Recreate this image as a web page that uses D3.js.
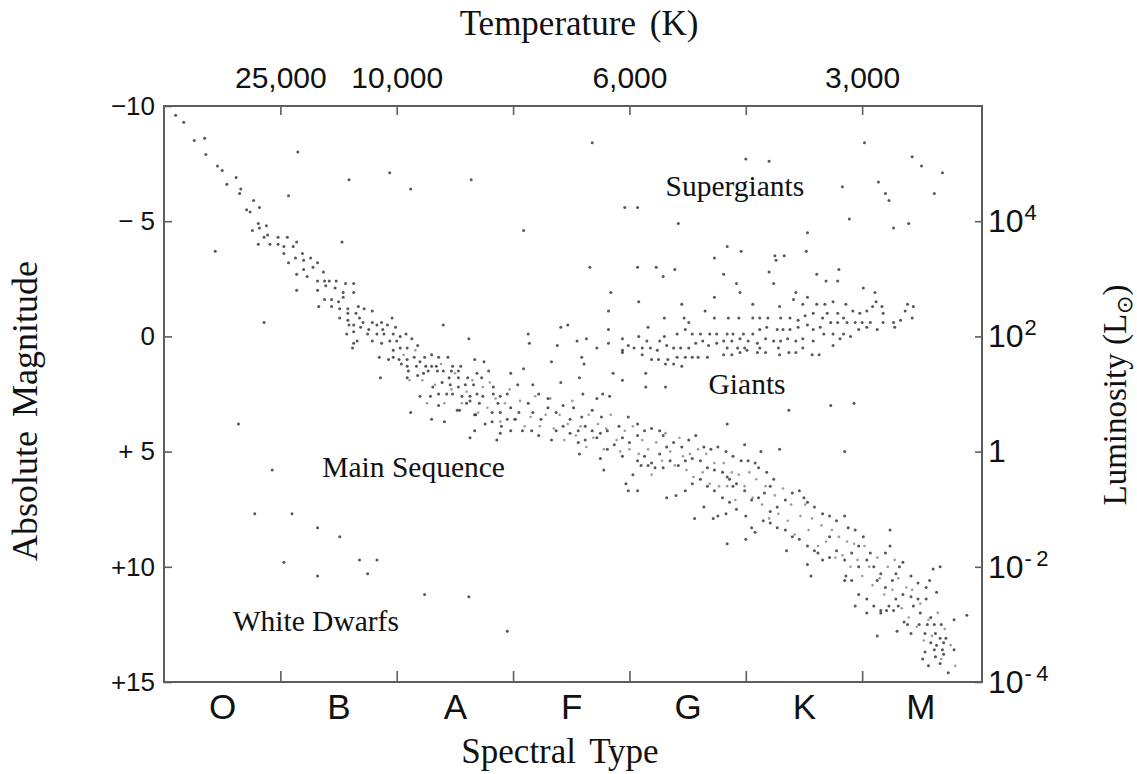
<!DOCTYPE html>
<html><head><meta charset="utf-8">
<script src="https://cdn.jsdelivr.net/npm/d3@7"></script>
<style>
html,body{margin:0;padding:0;background:#fff;}
svg{display:block;}
.tick text{fill:#111;}
</style>
</head><body>
<svg id="c" width="1137" height="774"></svg>
<script>
// ---- axis definitions ----
const spectralClasses = ["O","B","A","F","G","K","M"];
const classCenters = [5,15,25,35,45,55,65];           // subclass units
const classBoundaries = [10,20,30,40,50,60];
const tempTickLabels = ["25,000","10,000","","6,000","","3,000"];
const magTicks = [-10,-5,0,5,10,15];
const magTickLabels = ["\u221210","\u2212 5","0","+ 5","+10","+15"];
const lumExponents = [4,2,0,-2,-4];
const sunMag = 5.0;

// ---- stars: [spectral subclass (O0=0 ... M9=69), absolute magnitude] ----
const mainSeqUpper = [
[1.0,-9.6],[1.7,-9.3],[2.6,-8.5],[3.5,-8.6],[3.6,-7.9],[4.6,-7.4],[5.0,-7.2],[6.2,-6.9],[5.4,-6.6],[6.6,-6.4],
[6.5,-6.2],[7.7,-5.9],[7.1,-5.5],[7.4,-5.4],[8.2,-5.6],[8.1,-4.9],[8.8,-4.8],[7.6,-4.6],[8.2,-4.7],[8.9,-4.4],
[8.6,-4.3],[8.1,-4.0],[9.1,-4.0],[9.8,-4.3],[10.6,-4.3],[9.8,-4.0],[10.3,-3.9],[11.1,-3.9],[11.4,-4.1],[10.3,-3.6],
[11.3,-3.4],[10.7,-3.2],[11.9,-3.6],[12.0,-3.3],[12.6,-3.4],[13.2,-3.2],[12.8,-3.0],[12.0,-2.9],[11.4,-2.7],[12.3,-2.6],
[13.7,-2.8],[13.2,-2.4],[13.8,-2.4],[14.2,-2.4],[14.8,-2.4],[13.9,-2.2],[14.7,-2.1],[15.6,-2.3],[16.3,-2.3],[15.4,-1.9],
[16.3,-1.9],[11.4,-2.0],[13.2,-2.0],[13.8,-1.6],[14.4,-1.6],[13.3,-1.3],[14.4,-1.3],[15.0,-1.5],[15.4,-1.7],[15.1,-1.2],
[15.8,-1.2],[16.7,-1.3],[17.2,-1.2],[17.9,-1.1],[15.8,-1.0],[16.5,-1.0],[15.1,-0.8],[15.8,-0.7],[16.8,-0.8],[17.1,-0.6],
[17.9,-0.6],[15.9,-0.5],[16.3,-0.5],[16.9,-0.4],[17.6,-0.3],[18.3,-0.5],[18.8,-0.3],[19.6,-0.8],[18.7,-0.6],[19.2,-0.5],
[19.9,-0.4],[15.7,-0.1],[16.3,-0.2],[17.5,-0.1],[18.3,-0.1],[18.9,-0.1],[19.7,-0.1],[20.3,0.0],[20.8,-0.1],[21.3,0.1],
[16.6,0.2],[17.9,0.2],[18.7,0.3],[19.4,0.2],[20.0,0.2],[20.3,0.5],[20.9,0.5],[21.8,0.4],[16.2,0.5],[16.3,0.3],
[18.5,0.9],[19.3,1.0],[19.7,0.9],[20.2,1.0],[20.9,1.0],[21.5,0.9],[22.0,1.1],[22.4,0.9],[23.0,0.8],[23.6,0.9],
[24.4,0.9],[19.7,0.6],[20.4,1.2],[20.9,1.3],[21.7,1.3],[22.3,1.6],[22.7,1.5],[23.5,1.5],[24.0,1.5],[24.7,1.5],
[25.3,1.5],[21.0,1.5],[21.8,1.7],[22.5,1.3],[23.0,1.3],[23.4,1.3],[24.8,1.3],[25.5,1.3],[26.7,1.0],[27.5,1.1],
[27.9,1.5],[26.9,1.6],[26.1,1.8],[25.3,1.8],[24.5,1.8],[23.9,2.0],[24.6,2.1],[25.3,2.2],[25.9,2.1],[26.6,2.1],
[27.3,1.8],[23.1,2.2],[18.6,1.8],[20.9,1.8],[22.0,2.6],[22.9,2.6],[23.6,2.5],[24.3,2.5],[24.8,2.5],[25.6,2.6],
[26.3,2.6],[26.9,2.5],[27.4,2.6],[28.3,2.2],[28.3,2.5],[28.9,2.6],[29.5,2.5],[29.8,1.6],[30.9,1.4],[30.4,2.1],
[31.7,2.1],[32.2,2.5],[33.0,2.7],[34.1,2.0],[35.7,1.8],[36.0,2.5],[37.2,2.7],[37.7,2.5],[35.9,0.9],[36.1,1.2],
[33.3,1.1],[33.8,0.4],[34.1,-0.4],[34.7,-0.5],[35.5,0.2],[36.3,0.1],[37.2,0.5],[31.3,-0.1],[31.4,0.3],[26.2,0.1],
[24.0,-0.5],[38.2,-1.1],[38.2,-0.3],[38.2,0.3]
];
const mainSeqLower = [
[26.3,2.8],[27.1,2.9],[28.7,2.9],[28.2,3.3],[28.9,3.3],[29.8,3.1],[29.5,3.6],[30.5,3.3],[31.3,2.9],[31.7,3.3],
[32.4,3.6],[33.0,3.1],[33.7,3.3],[34.3,3.0],[34.9,3.6],[35.9,3.5],[36.8,3.2],[37.6,3.5],[35.2,3.1],[21.2,3.3],
[23.6,3.0],[25.2,3.2],[26.7,3.4],[28.2,3.7],[29.0,3.9],[29.8,4.1],[30.8,4.1],[31.6,4.1],[32.2,4.3],[33.3,4.5],
[33.7,4.1],[34.3,3.9],[34.9,4.2],[35.6,4.1],[36.2,3.9],[36.8,4.1],[37.5,4.2],[38.1,4.1],[39.1,3.9],[39.9,3.5],
[40.7,3.8],[41.3,4.1],[41.9,4.0],[42.6,4.1],[42.9,4.3],[40.7,4.3],[40.0,4.6],[39.4,4.4],[38.7,4.7],[38.1,4.9],
[37.2,4.4],[36.2,4.5],[35.6,4.6],[35.7,5.1],[28.9,4.2],[26.7,4.1],[26.3,4.4],[28.6,4.5],[24.1,3.7],[23.0,3.6],
[39.4,5.2],[37.5,5.3],[40.7,5.4],[41.3,5.2],[41.9,5.5],[42.6,5.1],[43.2,4.8],[43.8,4.6],[44.5,4.8],[45.1,4.5],
[45.7,4.3],[46.4,4.8],[47.0,4.9],[47.6,4.8],[48.3,5.0],[48.9,5.2],[49.6,5.4],[50.2,5.4],[50.8,5.5],[51.1,5.7],
[51.8,5.9],[52.4,6.2],[52.1,6.5],[51.6,6.8],[51.1,7.0],[50.5,7.1],[49.9,6.7],[49.2,6.4],[48.6,6.2],[48.0,5.9],
[47.3,5.8],[46.7,5.7],[46.1,5.4],[45.4,5.3],[44.8,5.4],[44.2,5.6],[43.5,5.4],[42.9,5.7],[42.2,5.7],[41.6,5.6],
[41.0,5.6],[40.3,6.0],[39.7,6.4],[39.9,6.7],[43.2,7.0],[44.0,6.9],[44.8,6.7],[45.4,6.4],[46.1,6.2],[46.7,6.5],
[47.3,6.7],[48.0,7.0],[48.6,7.2],[49.2,7.5],[50.0,7.8],[50.5,8.3],[50.8,8.5],[51.5,8.0],[52.1,7.6],[52.7,7.4],
[53.4,7.1],[54.0,6.8],[54.6,6.7],[55.0,7.0],[55.3,7.2],[55.9,7.4],[56.6,7.7],[57.2,7.8],[57.8,8.0],[58.5,7.8],
[58.8,8.3],[59.4,8.4],[60.1,8.7],[59.7,9.1],[59.1,9.4],[58.5,9.7],[57.8,9.3],[57.2,9.6],[56.6,9.7],[55.9,9.3],
[55.3,9.1],[54.6,8.8],[54.0,8.7],[53.4,8.4],[52.7,8.3],[52.1,8.1],[53.5,9.3],[55.3,9.9],[55.6,10.4],[58.5,10.6],
[58.6,10.4],[59.1,10.6],[59.7,10.0],[60.4,9.7],[60.7,9.4],[61.0,10.0],[61.6,10.3],[61.3,10.6],[62.0,10.9],[62.6,10.6],
[62.9,10.3],[63.2,10.0],[63.5,9.8],[64.2,10.4],[64.8,10.7],[65.5,10.9],[66.1,10.1],[66.4,11.1],[65.5,11.4],[64.8,11.4],
[64.2,11.3],[63.5,11.2],[62.9,11.4],[62.3,11.7],[61.6,11.9],[61.0,11.7],[60.4,11.4],[59.7,11.2],[59.4,11.7],[60.4,12.0],
[61.6,12.0],[61.3,13.0],[65.8,10.6],[66.7,10.0],[62.4,8.4],[62.4,9.1],[62.0,9.4],[57.2,8.7],[56.2,9.4],[48.4,9.0],
[50.0,8.8],[45.6,7.9],[47.2,7.9],[47.6,7.8],[58.5,5.0],[57.3,3.0],[59.3,2.9],[53.7,3.2],[52.9,4.9],[51.3,5.0],
[49.9,4.7],[48.4,3.8],[48.4,6.1],[48.9,6.5],[46.4,7.4],[48.3,7.7],[40.7,6.7],[37.8,5.8],[30.2,3.6],[27.6,3.8],
[26.8,3.4],[25.4,3.2],[26.0,2.9],
[69.0,12.1],[67.9,12.3],[66.8,12.5],[66.2,12.5],[65.6,12.5],[64.9,12.5],[64.2,12.9],[63.0,12.8],[65.4,12.9],[66.3,12.9],
[66.7,13.1],[67.2,13.1],[65.9,13.3],[66.4,13.4],[67.0,13.3],[66.2,13.6],[66.9,13.6],[67.9,13.6],[65.4,13.7],[66.3,13.9],
[67.0,13.8],[65.2,14.0],[66.7,14.2],[67.4,14.6],[65.7,14.3],[62.1,11.9],[62.7,11.9],[63.6,12.4],[63.9,12.5],[63.1,11.7],
[64.4,11.7],[65.0,12.0],[65.9,12.2]
];
// fainter stars filling the main-sequence band (estimated)
const bandAF = [
[20.6,0.8],[21.1,1.9],[21.6,0.6],[22.2,1.9],[22.6,2.9],[23.3,2.1],[23.8,1.2],[24.1,2.9],[24.7,2.3],[25.0,1.6],
[25.6,2.9],[26.0,2.4],[26.5,1.9],[27.0,3.3],[27.4,2.2],[27.8,3.1],[28.0,2.0],[28.5,2.7],[28.9,3.7],[29.3,2.9],
[29.7,2.3],[30.1,3.6],[30.6,2.8],[31.0,3.9],[31.5,3.5],[31.9,2.6],[32.3,3.9],[32.8,3.4],[33.2,2.7],[33.5,4.0],
[34.0,3.4],[34.4,4.5],[34.7,3.8],[35.1,2.8],[35.4,4.3],[35.8,3.9],[36.3,4.8],[36.5,3.4],[36.9,4.4],[37.3,3.8],
[37.8,4.9],[38.0,4.0],[38.4,3.4],[38.9,4.5],[39.2,5.0],[39.6,4.1],[40.0,4.9],[40.3,3.9],[40.8,5.1],[41.1,4.5],
[41.6,4.9],[41.9,6.0],[42.3,4.6],[42.8,5.4],[43.1,4.2],[43.5,5.0],[43.9,5.6],[44.3,4.4],[44.6,5.2],[44.9,5.8]
];
const bandGKM = [
[45.2,5.1],[45.5,6.1],[45.9,4.9],[46.3,5.9],[46.6,5.1],[46.9,6.4],[47.3,5.5],[47.7,6.5],[48.1,5.5],[48.4,6.5],
[48.8,5.9],[49.1,7.1],[49.4,6.0],[49.9,6.5],[50.3,5.9],[50.6,7.0],[50.9,6.2],[51.4,7.3],[51.7,6.5],[52.0,7.9],
[52.5,6.9],[52.8,7.7],[53.2,6.6],[53.6,8.0],[53.9,7.3],[54.2,8.6],[54.7,7.8],[55.1,7.3],[55.4,8.4],[55.7,7.9],
[56.2,9.1],[56.5,8.2],[56.9,8.9],[57.4,8.4],[57.7,9.6],[58.0,8.7],[58.3,9.5],[58.7,8.9],[59.0,10.0],[59.3,9.0],
[59.6,9.7],[60.0,10.4],[60.2,9.1],[60.6,10.0],[60.9,10.8],[61.3,9.6],[61.5,10.5],[61.9,11.2],[62.2,10.0],[62.6,11.0],
[62.8,9.7],[63.1,10.5],[63.4,11.8],[63.8,10.9],[64.0,12.2],[64.3,11.0],[64.7,12.6],[65.0,11.6],[65.3,13.2],[65.7,12.3],
[66.0,13.0],[66.5,12.0],[66.8,14.0],[67.1,12.7],[67.6,13.4],[68.0,14.3]
];
const giants = [
[40.7,-3.0],[42.3,-3.0],[43.9,-2.9],[42.9,-2.6],[48.1,-2.7],[52.0,-2.8],[56.1,-2.7],[58.0,-2.9],[56.9,-2.4],[57.9,-2.4],
[49.2,-2.3],[52.4,-2.3],[60.1,-2.1],[38.4,-1.9],[49.5,-1.9],[54.3,-1.9],[55.3,-1.7],[61.1,-1.9],[40.8,-1.5],[47.3,-1.7],
[44.5,-1.4],[50.6,-1.4],[52.9,-1.3],[54.1,-1.6],[54.9,-1.4],[56.1,-1.4],[56.8,-1.4],[57.5,-1.5],[58.6,-1.4],[61.2,-1.5],
[63.9,-1.4],[46.5,-1.1],[47.3,-0.8],[44.7,-0.8],[43.0,-0.8],[45.1,-0.6],[48.5,-0.8],[49.4,-0.8],[50.6,-0.8],[51.2,-0.8],
[51.9,-0.8],[53.0,-0.8],[53.8,-0.8],[54.5,-0.7],[55.1,-0.9],[55.8,-1.0],[56.6,-0.8],[57.0,-1.0],[57.9,-1.0],[58.4,-0.8],
[59.2,-1.1],[59.8,-1.0],[60.4,-1.1],[60.9,-1.3],[61.7,-1.3],[61.8,-1.0],[63.3,-0.7],[63.7,-1.1],[64.3,-0.8],[62.7,-0.6],
[62.8,-0.4],[61.3,-0.3],[61.8,-0.6],[60.7,-0.6],[60.0,-0.6],[59.4,-0.6],[58.7,-0.6],[57.9,-0.6],[57.3,-0.6],[56.4,-0.4],
[55.8,-0.3],[55.3,-0.5],[54.5,-0.4],[53.8,-0.3],[53.2,-0.3],[52.7,-0.3],[51.8,-0.4],[51.2,-0.3],[50.6,-0.1],[49.8,-0.1],
[48.9,-0.1],[48.4,-0.1],[47.5,-0.1],[46.9,-0.1],[46.1,-0.1],[45.4,-0.1],[44.8,-0.3],[44.1,-0.1],[41.6,-0.4],[43.0,0.0],
[42.6,0.2],[41.5,0.2],[40.8,0.0],[39.4,0.1],[39.9,0.4],[39.4,0.6],[40.4,0.5],[41.1,0.5],[41.8,0.5],[42.4,0.6],
[43.2,0.4],[43.8,0.5],[44.4,0.5],[45.1,0.5],[45.7,0.3],[46.3,0.2],[46.8,0.4],[47.5,0.3],[48.1,0.2],[48.8,0.2],
[49.5,0.1],[50.2,0.2],[51.0,0.3],[51.7,0.1],[52.4,0.2],[53.0,0.2],[53.6,0.1],[54.3,0.2],[54.9,0.1],[55.8,0.2],
[56.7,-0.1],[57.5,-0.1],[58.4,-0.1],[59.0,0.0],[59.7,-0.3],[60.4,-0.4],[58.1,0.1],[57.5,0.4],[39.4,0.7],[41.1,0.8],
[41.9,1.0],[42.5,1.0],[43.3,1.0],[44.1,0.9],[44.8,0.9],[45.4,0.9],[45.9,0.9],[46.7,0.9],[48.1,0.8],[48.8,0.8],
[49.5,0.7],[50.1,0.6],[51.0,0.7],[51.7,0.7],[52.9,0.8],[53.7,0.7],[54.3,0.7],[55.7,0.8],[56.3,0.8],[48.4,0.5],
[49.3,0.5],[49.9,0.5],[51.2,0.5],[52.8,0.5],[54.9,0.5],[43.8,1.2],[44.5,1.3],[43.1,1.2],[38.6,1.6],[39.4,1.9],
[41.4,1.6],[41.4,2.2],[43.1,2.2],[38.3,2.6],[64.4,-1.3]
];
const supergiants = [
[50.0,-7.7],[52.0,-7.6],[60.2,-8.4],[64.3,-7.8],[65.1,-7.4],[66.9,-7.1],[61.4,-6.7],[58.3,-6.5],[62.0,-6.2],[62.3,-5.9],
[66.2,-6.2],[39.6,-5.6],[40.7,-5.6],[44.2,-4.9],[58.9,-5.1],[62.7,-4.7],[64.0,-4.9],[55.3,-4.5],[55.2,-3.7],[48.4,-3.9],
[49.6,-3.7],[47.3,-3.4],[52.5,-3.5],[53.3,-3.5],[52.6,-3.3],[36.8,-8.4],[26.4,-6.8],[30.9,-4.6],[36.6,-3.0]
];
const scattered = [
[4.4,-3.7],[8.6,-0.6],[10.7,-6.1],[11.5,-8.0],[15.9,-6.8],[15.3,-4.1],[19.4,-7.1],[21.2,-6.4],
[6.4,3.8],[9.3,5.8],[7.8,7.7],[11.0,7.7],[13.2,8.3],[15.1,8.7],[10.3,9.8],[13.2,10.4],[16.8,9.7],[18.3,9.7],[17.5,10.3],
[22.4,11.2],[26.2,11.3],[29.5,12.8]
];
const regionLabels = [
  {text:"Supergiants", sub:43.1, mag:-6.1},
  {text:"Giants", sub:46.8, mag:2.5},
  {text:"Main Sequence", sub:13.6, mag:6.1},
  {text:"White Dwarfs", sub:5.9, mag:12.8}
];

// ---- layout ----
const svg = d3.select("#c");
const M = {left:164, top:106};
const W = 982-164, H = 682-106;
const g = svg.append("g").attr("transform",`translate(${M.left},${M.top})`);

const x = d3.scaleLinear().domain([0,70.3]).range([0,W]);
const y = d3.scaleLinear().domain([-10,15]).range([0,H]);
const yL = d3.scaleLog().domain([Math.pow(10,(sunMag+10)/2.5), Math.pow(10,(sunMag-15)/2.5)]).range([0,H]);

const SANS = "'Liberation Sans', Arial, sans-serif";
const SERIF = "'Liberation Serif', 'Times New Roman', serif";
const axisColor = "#5e5e5e";

// stars
const faint = [].concat(bandAF, bandGKM);
g.append("g").selectAll("circle").data(faint).join("circle")
  .attr("cx", d=>x(d[0])).attr("cy", d=>y(d[1]))
  .attr("r",1.3).attr("fill","#8a8a8a").attr("fill-opacity",0.85);
const allStars = [].concat(mainSeqUpper, mainSeqLower, giants, supergiants, scattered);
g.append("g").selectAll("circle").data(allStars).join("circle")
  .attr("cx", d=>x(d[0])).attr("cy", d=>y(d[1]))
  .attr("r",1.5).attr("fill","#3a3a3a").attr("fill-opacity",0.85);

function styleAxis(sel, size){
  sel.select(".domain").remove();
  sel.selectAll(".tick line").attr("stroke",axisColor).attr("stroke-width",1.6);
  sel.selectAll(".tick text").attr("font-family",SANS).attr("font-size",size).attr("fill","#111");
}

// left axis
g.append("g").call(d3.axisLeft(y).tickValues(magTicks).tickSize(-8).tickPadding(9)
   .tickFormat((d,i)=>magTickLabels[i])).call(s=>styleAxis(s,26));

// bottom boundaries
g.append("g").attr("transform",`translate(0,${H})`)
  .call(d3.axisBottom(x).tickValues(classBoundaries).tickSize(-11).tickFormat(""))
  .call(s=>styleAxis(s,26));
// bottom class letters
g.append("g").attr("transform",`translate(0,${H})`)
  .call(d3.axisBottom(x).tickValues(classCenters).tickSize(0).tickPadding(12)
    .tickFormat((d,i)=>spectralClasses[i])).call(s=>styleAxis(s,35));

// top temperature axis
g.append("g").call(d3.axisTop(x).tickValues(classBoundaries).tickSize(-9).tickPadding(18)
   .tickFormat((d,i)=>tempTickLabels[i])).call(s=>styleAxis(s,30));

// right luminosity axis
const rightAx = g.append("g").attr("transform",`translate(${W},0)`)
  .call(d3.axisRight(yL).tickValues(lumExponents.map(e=>Math.pow(10,e))).tickSize(-7).tickPadding(6).tickFormat(""))
  .call(s=>styleAxis(s,32));
rightAx.selectAll(".tick text").each(function(d,i){
  const e = lumExponents[i];
  const t = d3.select(this).text("").attr("text-anchor","start");
  if(e===0){ t.append("tspan").text("1"); }
  else {
    t.append("tspan").text("10");
    t.append("tspan").attr("font-size",22).attr("dy",-12).attr("dx",1)
      .text(e<0 ? "-\u2009"+(-e) : String(e));
  }
});

// frame
g.append("rect").attr("x",0).attr("y",0).attr("width",W).attr("height",H)
  .attr("fill","none").attr("stroke",axisColor).attr("stroke-width",2);

// region labels
g.append("g").selectAll("text").data(regionLabels).join("text")
  .attr("x",d=>x(d.sub)).attr("y",d=>y(d.mag))
  .attr("font-family",SERIF).attr("font-size",29.5).attr("fill","#111")
  .text(d=>d.text);

// titles
svg.append("text").attr("x",579).attr("y",35).attr("text-anchor","middle")
  .attr("font-family",SERIF).attr("font-size",35).attr("word-spacing",5).attr("fill","#111")
  .text("Temperature (K)");
svg.append("text").attr("x",560).attr("y",763).attr("text-anchor","middle")
  .attr("font-family",SERIF).attr("font-size",35).attr("word-spacing",5).attr("fill","#111")
  .text("Spectral Type");
svg.append("text").attr("transform","translate(37,411) rotate(-90)").attr("text-anchor","middle")
  .attr("font-family",SERIF).attr("font-size",36).attr("word-spacing",5).attr("fill","#111")
  .text("Absolute Magnitude");
const lum = svg.append("text").attr("transform","translate(1126,395) rotate(-90)").attr("text-anchor","middle")
  .attr("font-family",SERIF).attr("font-size",33).attr("fill","#111");
lum.append("tspan").text("Luminosity (L");
lum.append("tspan").attr("font-size",22).attr("dy",6).attr("font-family","'DejaVu Sans', sans-serif").text("\u2299");
lum.append("tspan").attr("dy",-6).text(")");
</script>
</body></html>
